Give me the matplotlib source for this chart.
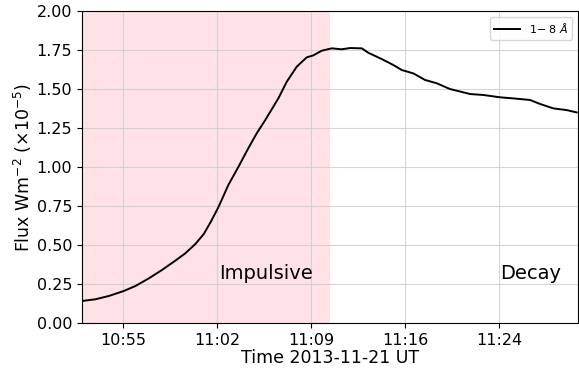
import matplotlib
matplotlib.use("Agg")
import matplotlib.pyplot as plt
import pandas as pd

DAY = "2013-11-21 "

# GOES 1-8 A flux (units of 1e-5 W m^-2)
times = ["10:52:00", "10:53:02", "10:54:04", "10:55:13", "10:56:07", "10:57:09",
         "10:58:10", "10:59:12", "10:59:58", "11:00:44", "11:01:23", "11:01:57",
         "11:02:30",
         "11:03:17", "11:04:03", "11:04:49", "11:05:28", "11:06:07", "11:07:08",
         "11:07:47", "11:08:33", "11:09:19", "11:09:50", "11:10:29", "11:11:15",
         "11:12:01", "11:12:40", "11:13:34", "11:14:04", "11:15:14", "11:16:00",
         "11:16:39", "11:17:33", "11:18:27", "11:19:21", "11:20:22", "11:21:09",
         "11:21:55", "11:22:56", "11:24:14", "11:25:15", "11:26:32", "11:27:19",
         "11:28:20", "11:29:22", "11:30:08"]
flux = [0.141, 0.152, 0.173, 0.205, 0.237, 0.286,
        0.340, 0.400, 0.447, 0.506, 0.570, 0.652,
        0.740,
        0.885, 1.000, 1.120, 1.216, 1.300, 1.440,
        1.547, 1.643, 1.703, 1.716, 1.746, 1.761,
        1.755, 1.763, 1.761, 1.733, 1.687, 1.654,
        1.622, 1.600, 1.558, 1.537, 1.500, 1.484,
        1.468, 1.462, 1.447, 1.440, 1.430, 1.404,
        1.376, 1.365, 1.350]

tick_times = ["10:55:10", "11:02:25", "11:09:40", "11:16:55", "11:24:10"]
tick_labels = ["10:55", "11:02", "11:09", "11:16", "11:24"]
xlim = ["10:52:00", "11:30:14"]
impulsive = ["10:52:00", "11:11:07"]
phase_labels = ["Impulsive", "Decay"]
phase_label_times = ["11:06:11", "11:26:37"]


def ts(lst):
    return pd.to_datetime([DAY + t for t in lst])


fig = plt.figure(figsize=(5.79, 3.74), dpi=100)
ax = fig.add_axes([0.1416, 0.1364, 0.8567, 0.834])

t0, t1 = ts(impulsive)
ax.axvspan(t0, t1, color="#ff8c9a", alpha=0.25, lw=0, zorder=0)
ax.plot(ts(times), flux, color="black", lw=1.4, label=r"1$-$ 8 $\AA$", zorder=3)

for lab, t in zip(phase_labels, ts(phase_label_times)):
    ax.text(t, 0.32, lab, ha="center", va="center", fontsize=14)

ax.set_xlim(ts(xlim))
ax.set_ylim(0, 2.0)
ax.set_yticks([0, 0.25, 0.5, 0.75, 1.0, 1.25, 1.5, 1.75, 2.0])
ax.set_xticks(ts(tick_times))
ax.set_xticklabels(tick_labels)
ax.tick_params(labelsize=11.5)
ax.grid(True, color="#cccccc", lw=0.8, alpha=0.8)
ax.set_axisbelow(True)

ax.set_ylabel(r"Flux Wm$^{-2}$ ($\times$10$^{-5}$)", fontsize=12.5, labelpad=2)
ax.set_xlabel("Time 2013-11-21 UT", fontsize=12.5, labelpad=1)
ax.legend(loc="upper right", fontsize=8, handlelength=2.3)

fig.savefig("out.png", dpi=100)
